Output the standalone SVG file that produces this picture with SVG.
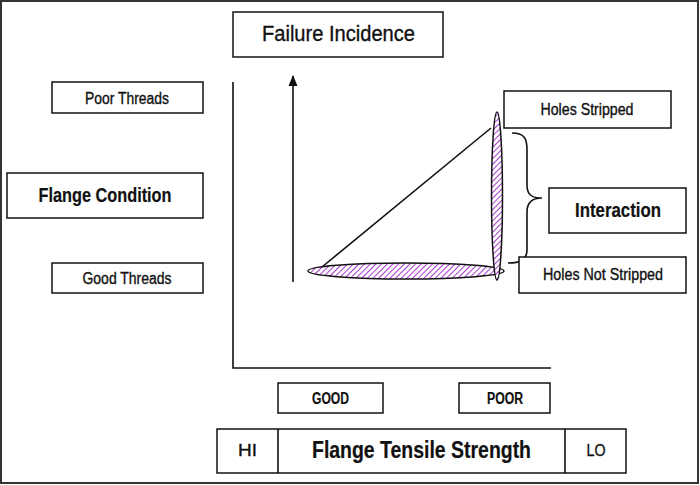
<svg xmlns="http://www.w3.org/2000/svg" width="700" height="485" viewBox="0 0 700 485">
<style>
.box{fill:#fff;stroke:#111;stroke-width:1.5}
.t{font-family:"Liberation Sans Narrow","Liberation Sans",Arial,sans-serif;fill:#111;text-anchor:middle;stroke:#111;stroke-width:0.35}
.b{font-weight:bold;stroke-width:0.2}
.ln{fill:none;stroke:#111;stroke-width:1.6}
.hatch{fill:url(#hp);stroke:#111;stroke-width:1.5}
</style>
<defs>
<pattern id="hp" width="4" height="4" patternUnits="userSpaceOnUse" patternTransform="rotate(45)">
<rect width="4" height="4" fill="#fff"/>
<line x1="0" y1="0" x2="0" y2="4" stroke="#a838cc" stroke-width="2"/>
</pattern>
<marker id="ah" markerWidth="12" markerHeight="12" refX="10" refY="6" orient="auto" markerUnits="userSpaceOnUse">
<path d="M0,1.5 L11,6 L0,10.5 Z" fill="#111"/>
</marker>
</defs>
<rect x="1" y="1" width="697" height="482" fill="#fff" stroke="#333" stroke-width="2"/>

<g id="connectors">
<path class="ln" d="M233,82 L233,368 L551,368"/>
<line class="ln" x1="293" y1="282" x2="293" y2="76" marker-end="url(#ah)"/>
<line class="ln" x1="322" y1="267" x2="491" y2="128"/>
<path class="ln" d="M512,133 C524,133 527,138 527,150 L527,185 C527,195 532,198 542,198 C532,198 527,202 527,212 L527,250 C527,260 520,263 508,263"/>
</g>

<g id="ellipse-h"><ellipse class="hatch" cx="406" cy="271" rx="98" ry="8"/></g>
<g id="ellipse-v"><ellipse class="hatch" cx="497" cy="196" rx="5.5" ry="84"/></g>

<g id="failure-incidence"><rect class="box" x="233" y="12" width="210" height="45"/><text class="t" x="338.5" y="41" font-size="22" textLength="153" lengthAdjust="spacingAndGlyphs">Failure Incidence</text></g>
<g id="poor-threads"><rect class="box" x="52" y="82" width="151" height="31"/><text class="t" x="127" y="104" font-size="16" textLength="84" lengthAdjust="spacingAndGlyphs">Poor Threads</text></g>
<g id="flange-condition"><rect class="box" x="7" y="173" width="196" height="45"/><text class="t b" x="105" y="202" font-size="20" textLength="133" lengthAdjust="spacingAndGlyphs">Flange Condition</text></g>
<g id="good-threads"><rect class="box" x="52" y="263" width="151" height="30"/><text class="t" x="127" y="284" font-size="16" textLength="89" lengthAdjust="spacingAndGlyphs">Good Threads</text></g>
<g id="holes-stripped"><rect class="box" x="504" y="91" width="167" height="37"/><text class="t" x="587" y="115" font-size="16" textLength="93" lengthAdjust="spacingAndGlyphs">Holes Stripped</text></g>
<g id="interaction"><rect class="box" x="549" y="188" width="137" height="45"/><text class="t b" x="618" y="217" font-size="20" textLength="86" lengthAdjust="spacingAndGlyphs">Interaction</text></g>
<g id="holes-not-stripped"><rect class="box" x="519" y="257" width="167" height="36"/><text class="t" x="603" y="280" font-size="16" textLength="120" lengthAdjust="spacingAndGlyphs">Holes Not Stripped</text></g>
<g id="good"><rect class="box" x="278" y="383" width="105" height="30"/><text class="t b" x="330.5" y="404" font-size="16" textLength="37" lengthAdjust="spacingAndGlyphs">GOOD</text></g>
<g id="poor"><rect class="box" x="459" y="383" width="91" height="30"/><text class="t b" x="505" y="404" font-size="16" textLength="36" lengthAdjust="spacingAndGlyphs">POOR</text></g>
<g id="tensile-strength">
<rect class="box" x="217" y="429" width="409" height="44"/>
<line class="ln" x1="278" y1="429" x2="278" y2="473"/>
<line class="ln" x1="565" y1="429" x2="565" y2="473"/>
<text class="t" x="247.5" y="456" font-size="17" textLength="19" lengthAdjust="spacingAndGlyphs">HI</text>
<text class="t b" x="421.5" y="458" font-size="23" textLength="219" lengthAdjust="spacingAndGlyphs">Flange Tensile Strength</text>
<text class="t" x="596" y="456" font-size="17" textLength="19" lengthAdjust="spacingAndGlyphs">LO</text>
</g>
</svg>
